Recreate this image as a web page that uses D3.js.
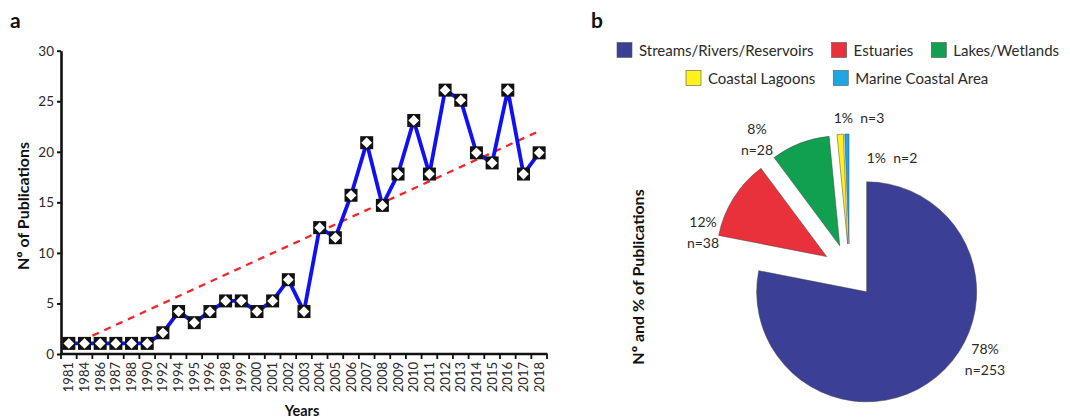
<!DOCTYPE html>
<html>
<head>
<meta charset="utf-8">
<script src="https://cdn.jsdelivr.net/npm/d3@7"></script>
<style>
  body { margin: 0; background: #fff; }
  text { font-family: Lato, "Open Sans", sans-serif; fill: #2a2a2a; }
</style>
</head>
<body>
<div id="container"></div>
<script>
var years = ["1981","1984","1986","1987","1988","1990","1992","1994","1995","1996",
  "1998","1999","2000","2001","2002","2003","2004","2005","2006","2007","2008",
  "2009","2010","2011","2012","2013","2014","2015","2016","2017","2018"];
var publications = [1.05,1.05,1.05,1.05,1.05,1.05,2.1,4.2,3.1,4.2,
  5.25,5.25,4.2,5.25,7.35,4.2,12.5,11.5,15.7,20.9,14.7,
  17.8,23.1,17.8,26.1,25.1,19.9,18.9,26.1,17.8,19.9];
var trendEnds = [0.75, 22.05];
var yTicks = [0, 5, 10, 15, 20, 25, 30];

var habitats = ["Streams/Rivers/Reservoirs","Estuaries","Lakes/Wetlands","Coastal Lagoons","Marine Coastal Area"];
var habitatCounts = [253, 38, 28, 3, 2];
var habitatPct = ["78%", "12%", "8%", "1%", "1%"];
var habitatColors = ["#3b3f95", "#e8313b", "#11a04f", "#fff21c", "#1ea6e4"];

var svg = d3.select('#container').append('svg')
  .attr('width', 1070).attr('height', 418);

// ---------- panel a ----------
var x = d3.scaleBand().domain(years).range([61, 547]).padding(0);
var y = d3.scaleLinear().domain([0, 30]).range([354, 50.7]);

svg.append('text').attr('x', 10).attr('y', 28)
  .style('font-size', '21px').style('font-weight', 'bold').style('fill', '#111').text('a');

var yAxis = svg.append('g').attr('transform', 'translate(61,0)')
  .call(d3.axisLeft(y).tickValues(yTicks).tickSize(4).tickSizeOuter(0).tickPadding(3));
yAxis.select('.domain').attr('stroke', '#111').attr('stroke-width', 2.6);
yAxis.selectAll('.tick line').attr('stroke', '#111').attr('stroke-width', 2);
yAxis.selectAll('.tick text').style('font-size', '13.5px').style('font-family', 'Lato, sans-serif').attr('fill', '#2a2a2a');

// x axis: ticks between categories
var xg = svg.append('g');
xg.append('line').attr('x1', 60).attr('x2', 547.5).attr('y1', 354).attr('y2', 354)
  .attr('stroke', '#111').attr('stroke-width', 2.6);
var bounds = years.map(function(d) { return x(d); }).concat([x.range()[1]]);
xg.selectAll('line.tk').data(bounds).enter().append('line').classed('tk', true)
  .attr('x1', function(d) { return d; }).attr('x2', function(d) { return d; })
  .attr('y1', 354).attr('y2', 359)
  .attr('stroke', '#111').attr('stroke-width', 1.8);
xg.selectAll('text').data(years).enter().append('text')
  .attr('transform', function(d) {
    return 'translate(' + (x(d) + x.bandwidth() / 2 + 4.5) + ',362) rotate(-90)';
  })
  .attr('text-anchor', 'end')
  .style('font-size', '13px')
  .text(function(d) { return d; });

svg.append('text').attr('x', 302).attr('y', 416)
  .attr('text-anchor', 'middle').style('font-size', '14.5px').style('font-weight', 'bold')
  .style('fill', '#111').text('Years');
svg.append('text').attr('transform', 'translate(29,206) rotate(-90)')
  .attr('text-anchor', 'middle').style('font-size', '16px').style('font-weight', 'bold')
  .style('fill', '#111').text('Nº of Publications');

var cx = function(d) { return x(d) + x.bandwidth() / 2; };

// trend line
svg.append('line')
  .attr('x1', cx(years[0])).attr('y1', y(trendEnds[0]))
  .attr('x2', cx(years[years.length - 1])).attr('y2', y(trendEnds[1]))
  .attr('stroke', '#f0262b').attr('stroke-width', 2.3).attr('stroke-dasharray', '7,6');

var line = d3.line()
  .x(function(d, i) { return cx(years[i]); })
  .y(function(d) { return y(d); });
svg.append('path').datum(publications)
  .attr('d', line).attr('fill', 'none')
  .attr('stroke', '#1010f5').attr('stroke-width', 3.8).attr('stroke-linejoin', 'miter');

var marks = svg.selectAll('g.mk').data(publications).enter().append('g').classed('mk', true)
  .attr('transform', function(d, i) { return 'translate(' + cx(years[i]) + ',' + y(d) + ')'; });
marks.append('rect').attr('x', -6.5).attr('y', -6.5).attr('width', 13).attr('height', 13)
  .attr('fill', '#111');
marks.append('rect').attr('x', -3.8).attr('y', -3.8).attr('width', 7.6).attr('height', 7.6)
  .attr('transform', 'rotate(45)').attr('fill', '#fff');

// ---------- panel b ----------
svg.append('text').attr('x', 591).attr('y', 28)
  .style('font-size', '21px').style('font-weight', 'bold').style('fill', '#111').text('b');

var legendRows = [[0, 1, 2], [3, 4]];
var legendStart = [617, 686];
var legendY = [50, 78];
legendRows.forEach(function(row, r) {
  var lx = legendStart[r];
  row.forEach(function(k) {
    svg.append('rect').attr('x', lx).attr('y', legendY[r] - 7.5).attr('width', 15).attr('height', 15)
      .attr('fill', habitatColors[k]).attr('stroke', '#555').attr('stroke-width', 0.6);
    var t = svg.append('text').attr('x', lx + 22).attr('y', legendY[r] + 5.5)
      .style('font-size', '15px').text(habitats[k]);
    lx = lx + 22 + t.node().getComputedTextLength() + 18;
  });
});

svg.append('text').attr('transform', 'translate(644,277) rotate(-90)')
  .attr('text-anchor', 'middle').style('font-size', '16px').style('font-weight', 'bold')
  .style('fill', '#111').text('Nº and % of Publications');

var pieCenter = [849.5, 271];
var explode = 27;
var radius = 110;
var pie = d3.pie().sort(null).startAngle(0).endAngle(2 * Math.PI);
var arc = d3.arc().innerRadius(0).outerRadius(radius);
var slices = pie(habitatCounts);

var pg = svg.append('g').attr('transform', 'translate(' + pieCenter[0] + ',' + pieCenter[1] + ')');
pg.selectAll('path').data(slices).enter().append('path')
  .attr('transform', function(d) {
    var a = (d.startAngle + d.endAngle) / 2;
    return 'translate(' + (Math.sin(a) * explode) + ',' + (-Math.cos(a) * explode) + ')';
  })
  .attr('d', arc)
  .attr('fill', function(d, i) { return habitatColors[i]; })
  .attr('stroke', '#444').attr('stroke-width', 0.5);

// labels (offsets relative to pie centre)
var labelOffsets = [[135.5, 88], [-146.5, -39], [-92.5, -132], [9.5, -153], [42.5, -113]];
slices.forEach(function(d, i) {
  var o = labelOffsets[i];
  if (i >= 3) {
    pg.append('text').attr('x', o[0]).attr('y', o[1] + 5)
      .attr('text-anchor', 'middle').style('font-size', '14px')
      .text(habitatPct[i] + '\u00a0 n=' + habitatCounts[i]);
  } else {
    pg.append('text').attr('x', o[0]).attr('y', o[1] - 5)
      .attr('text-anchor', 'middle').style('font-size', '14px').text(habitatPct[i]);
    pg.append('text').attr('x', o[0]).attr('y', o[1] + 16)
      .attr('text-anchor', 'middle').style('font-size', '14px').text('n=' + habitatCounts[i]);
  }
});
</script>
</body>
</html>
